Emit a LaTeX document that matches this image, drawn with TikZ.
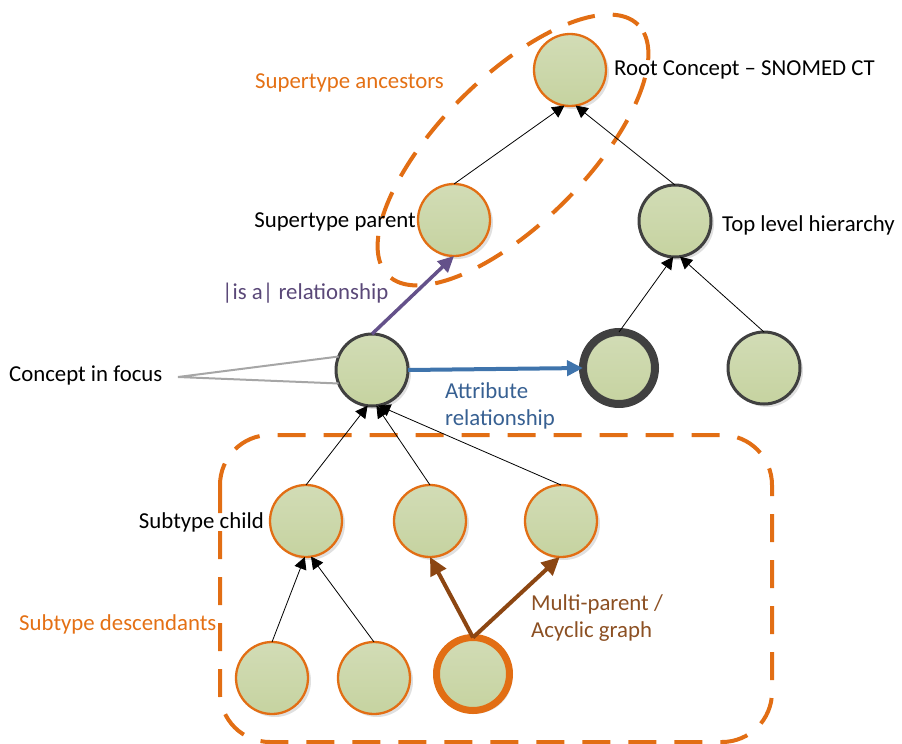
\documentclass[tikz,border=0pt]{standalone}
\usepackage{fontspec}
\setmainfont{Carlito}
\usetikzlibrary{arrows.meta,shadows}
\definecolor{orng}{RGB}{226,110,20}
\definecolor{orngtxt}{RGB}{228,112,20}
\definecolor{dark}{RGB}{64,64,64}
\definecolor{fillA}{RGB}{210,220,182}
\definecolor{fillB}{RGB}{198,211,160}
\definecolor{purp}{RGB}{100,81,138}
\definecolor{purptxt}{RGB}{90,72,120}
\definecolor{blu}{RGB}{63,116,172}
\definecolor{blutxt}{RGB}{55,96,146}
\definecolor{brn}{RGB}{140,70,18}
\definecolor{brntxt}{RGB}{140,80,35}
\definecolor{callout}{RGB}{166,166,166}
\tikzset{
  cnode/.style={circle, inner sep=0pt, outer sep=0pt, minimum size=72pt,
    top color=fillA, bottom color=fillB, draw=orng, line width=2.3pt,
    drop shadow={shadow xshift=3pt, shadow yshift=-3pt, fill=black, opacity=0.12}},
  darknode/.style={cnode, draw=dark, line width=3pt},
  thickdark/.style={cnode, draw=dark, line width=8pt},
  thickorng/.style={cnode, draw=orng, line width=7pt, minimum size=73pt},
  lbl/.style={inner sep=0pt, font=\fontsize{22.8pt}{27pt}\selectfont},
  isa/.style={-{Triangle[length=12pt,width=12.5pt]}, line width=0.8pt, black},
  grp/.style={orng, line width=4pt, dash pattern=on 28pt off 18pt},
}
\begin{document}
\begin{tikzpicture}[x=1pt,y=-1pt]
\useasboundingbox (0,0) rectangle (902,744);

% group outlines
\draw[grp, rotate around={45:(513,150)}] (513,150) ellipse [x radius=177pt, y radius=73pt];
\draw[grp, rounded corners=50pt] (220,435) rectangle (772,742);

% nodes
\node[cnode] (root) at (570,70) {};
\node[cnode] (parent) at (454,220) {};
\node[darknode] (top) at (675,221) {};
\node[thickdark] (tgt) at (619,368) {};
\node[darknode] (tright) at (764,368) {};
\node[darknode] (focus) at (372,370) {};
\node[cnode] (child) at (306,521) {};
\node[cnode] (cmid) at (430,521) {};
\node[cnode] (cright) at (561,521) {};
\node[cnode] (b1) at (272,678) {};
\node[cnode] (b2) at (374,678) {};
\node[thickorng] (b3) at (473,674) {};

% labels
\node[lbl, anchor=west] (lroot) at (614,70) {Root Concept – SNOMED CT};
\node[lbl, anchor=west, text=orngtxt] (lanc) at (255,83) {Supertype ancestors};
\node[lbl, anchor=east] (lparent) at (416,222) {Supertype parent};
\node[lbl, anchor=west] (ltop) at (722,225) {Top level hierarchy};
\node[lbl, anchor=west, text=purptxt] (lisa) at (222,293) {|is a| relationship};
\node[lbl, anchor=west] (lfocus) at (9,375) {Concept in focus};
\node[lbl, anchor=west, align=left, text=blutxt] (lattr) at (445,406) {Attribute\\relationship};
\node[lbl, anchor=east] (lchild) at (264,522) {Subtype child};
\node[lbl, anchor=west, text=orngtxt] (ldesc) at (19,624) {Subtype descendants};
\node[lbl, anchor=west, align=left, text=brntxt] (lmulti) at (531,618) {Multi-parent /\\Acyclic graph};

% callout
\coordinate (apex) at (178,377);
\draw[callout, line width=2pt] (focus.158) -- (apex) -- (focus.202);

% is-a arrows
\draw[isa] (parent.north) -- (root.261);
\draw[isa] (top.north) -- (root.279);
\draw[isa] (tgt.north) -- (top.267);
\draw[isa] (tright.north) -- (top.278);
\draw[isa] (child.north) -- (focus.263);
\draw[isa] (cmid.north) -- (focus.277);
\draw[isa] (cright.north) -- (focus.280);
\draw[isa] (b1.north) -- (child.268);
\draw[isa] (b2.north) -- (child.278);

% coloured relationships
\draw[purp, line width=3.5pt, -{Triangle[length=16pt,width=15pt]}] (focus.north) -- (parent.south);
\draw[blu, line width=4pt, -{Triangle[length=16pt,width=15pt]}] (focus.east) -- (tgt.west);
\draw[brn, line width=4pt, -{Triangle[length=18pt,width=17pt]}] (b3.north) -- (cmid.south);
\draw[brn, line width=4pt, -{Triangle[length=18pt,width=17pt]}] (b3.north) -- (cright.268);
\end{tikzpicture}
\end{document}
